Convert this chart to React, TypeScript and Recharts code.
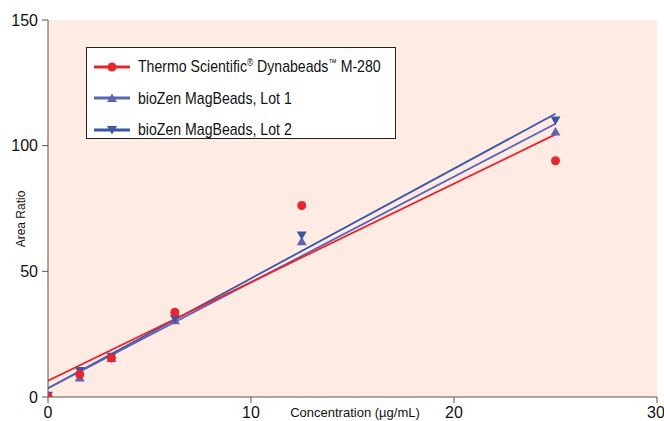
import React from 'react';
import { ComposedChart, Scatter, Line, XAxis, YAxis, CartesianGrid, Legend } from 'recharts';

// concentration levels (µg/mL)
const concentrations = [0, 1.5625, 3.125, 6.25, 12.5, 25];

// measured area ratios
const thermoValues = [0, 9, 15.5, 33.7, 76.2, 94];
const lot1Values = [0.5, 7.8, 15.5, 30.5, 62, 105.6];
const lot2Values = [0.5, 10.3, 16, 31, 64.3, 110];

// linear fit end points
const fitX = [0, 25];
const thermoFit = [6.5, 104.5];
const lot1Fit = [3.5, 108.7];
const lot2Fit = [3.5, 112.7];

const seriesNames = [
  'Thermo Scientific® Dynabeads™ M-280',
  'bioZen MagBeads, Lot 1',
  'bioZen MagBeads, Lot 2',
];
const seriesColors = ['#e8252b', '#5c63b4', '#3d55a6'];
const seriesMarkers = ['circle', 'up', 'down'];

const xTicks = [0, 10, 20, 30];
const yTicks = [0, 50, 100, 150];

const toPoints = (xs: number[], ys: number[]) => xs.map((x, i) => ({ x, y: ys[i] }));

const thermoPoints = toPoints(concentrations, thermoValues);
const lot1Points = toPoints(concentrations, lot1Values);
const lot2Points = toPoints(concentrations, lot2Values);
const thermoLine = toPoints(fitX, thermoFit);
const lot1Line = toPoints(fitX, lot1Fit);
const lot2Line = toPoints(fitX, lot2Fit);

const axisColor = '#5e504d';
const tickFont = "'Liberation Sans', Arial, sans-serif";

const Marker = ({ kind, cx, cy, color }: { kind: string; cx: number; cy: number; color: string }) => {
  if (kind === 'circle') return <circle cx={cx} cy={cy} r={4.5} fill={color} />;
  if (kind === 'up')
    return <path d={`M${cx},${cy - 4.5} L${cx + 5},${cy + 4} L${cx - 5},${cy + 4} Z`} fill={color} />;
  return <path d={`M${cx - 5},${cy - 4} L${cx + 5},${cy - 4} L${cx},${cy + 4.5} Z`} fill={color} />;
};

const shapeFor = (i: number) => (props: any) => (
  <Marker kind={seriesMarkers[i]} cx={props.cx} cy={props.cy} color={seriesColors[i]} />
);

// small superscript for ® and ™
const LegendLabel = ({ text }: { text: string }) => (
  <>
    {text.split(/([®™])/).map((part, k) =>
      part === '®' || part === '™' ? (
        <span key={k} style={{ fontSize: 10, verticalAlign: 6 }}>
          {part}
        </span>
      ) : (
        <span key={k}>{part}</span>
      )
    )}
  </>
);

const LegendBox = () => (
  <div
    style={{
      width: 310,
      height: 92,
      border: '1px solid #222',
      background: '#fff',
      boxSizing: 'border-box',
      paddingTop: 3,
    }}
  >
    {seriesNames.map((name, i) => (
      <div key={name} style={{ display: 'flex', alignItems: 'center', height: 31.5, whiteSpace: 'nowrap' }}>
        <svg width={46} height={14} style={{ marginLeft: 5, flex: 'none' }}>
          <line x1={2} y1={7} x2={38} y2={7} stroke={seriesColors[i]} strokeWidth={3} />
          <Marker kind={seriesMarkers[i]} cx={20} cy={7} color={seriesColors[i]} />
        </svg>
        <span
          style={{
            display: 'inline-block',
            fontFamily: tickFont,
            fontSize: 17,
            color: '#111',
            lineHeight: 1,
            transform: 'scaleX(0.83)',
            transformOrigin: 'left center',
          }}
        >
          <LegendLabel text={name} />
        </span>
      </div>
    ))}
  </div>
);

const XTitle = () => (
  <text x={355} y={417} textAnchor="middle" fontFamily={tickFont} fontSize={13} fill="#111">
    Concentration (µg/mL)
  </text>
);

const YTitle = () => (
  <text
    x={21}
    y={219}
    transform="rotate(-90 21 219)"
    textAnchor="middle"
    dominantBaseline="central"
    fontFamily={tickFont}
    fontSize={12}
    fill="#111"
  >
    Area Ratio
  </text>
);

const App: React.FC = () => {
  return (
    <div style={{ position: 'absolute', left: 0, top: 0, background: '#fff' }}>
      <ComposedChart width={664} height={421} margin={{ top: 20, right: 7, left: 0, bottom: 0 }}>
        <CartesianGrid fill="#fdebe4" horizontal={false} vertical={false} />
        <XAxis
          type="number"
          dataKey="x"
          domain={[0, 30]}
          ticks={xTicks}
          height={24}
          stroke={axisColor}
          tickSize={6}
          tickMargin={4}
          tick={{ fill: '#111', fontSize: 16, fontFamily: tickFont }}
          label={{ content: () => <XTitle /> }}
          allowDataOverflow
        />
        <YAxis
          type="number"
          dataKey="y"
          domain={[0, 150]}
          ticks={yTicks}
          width={48}
          stroke={axisColor}
          tickSize={6}
          tickMargin={4}
          tick={{ fill: '#111', fontSize: 16, fontFamily: tickFont }}
          label={{ content: () => <YTitle /> }}
          allowDataOverflow
        />
        <Line data={lot2Line} dataKey="y" stroke={seriesColors[2]} strokeWidth={1.8} dot={false} isAnimationActive={false} />
        <Line data={lot1Line} dataKey="y" stroke={seriesColors[1]} strokeWidth={1.8} dot={false} isAnimationActive={false} />
        <Line data={thermoLine} dataKey="y" stroke={seriesColors[0]} strokeWidth={1.8} dot={false} isAnimationActive={false} />
        <Scatter data={lot1Points} shape={shapeFor(1)} isAnimationActive={false} />
        <Scatter data={lot2Points} shape={shapeFor(2)} isAnimationActive={false} />
        <Scatter data={thermoPoints} shape={shapeFor(0)} isAnimationActive={false} />
        <Legend
          layout="vertical"
          align="center"
          verticalAlign="middle"
          content={() => <LegendBox />}
          wrapperStyle={{ left: 86, top: 47, width: 310, height: 92 }}
        />
      </ComposedChart>
    </div>
  );
};

export default App;
